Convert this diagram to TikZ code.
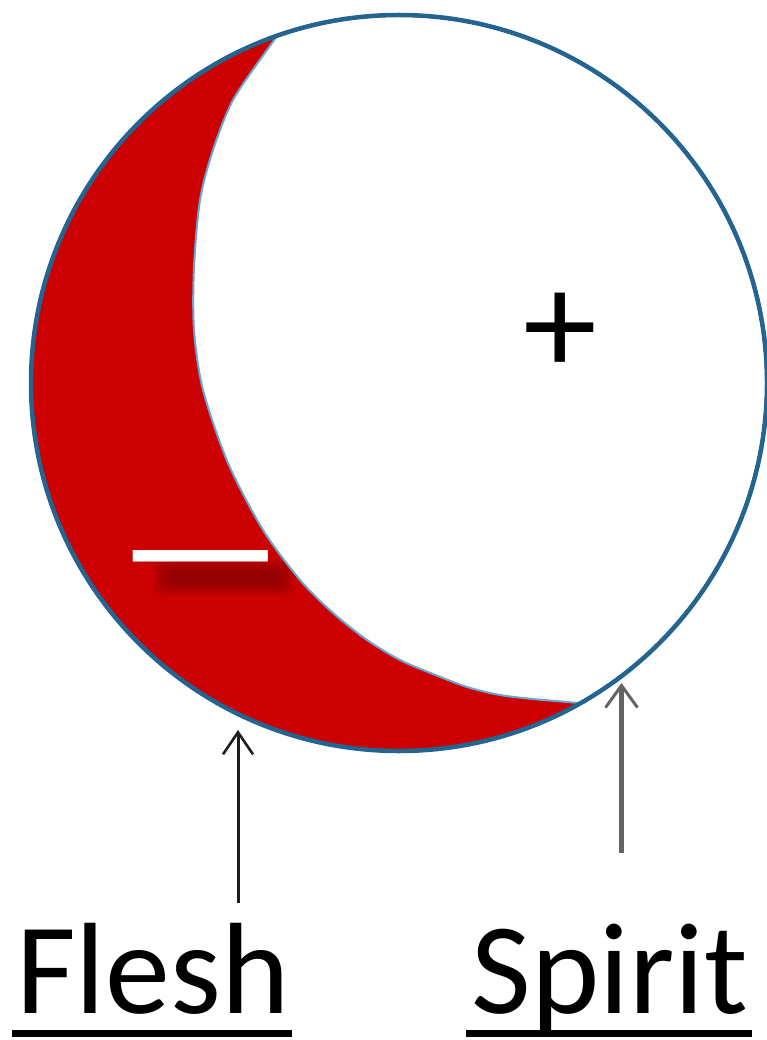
\documentclass[tikz,border=0pt]{standalone}
\usepackage{fontspec}
\setmainfont{Carlito}
\usetikzlibrary{arrows.meta}
\definecolor{rimblue}{RGB}{35,100,145}
\definecolor{innerblue}{RGB}{105,165,210}
\definecolor{fleshred}{RGB}{204,0,0}
\definecolor{shadowred}{RGB}{110,0,0}
\definecolor{arrowdark}{RGB}{30,30,30}
\definecolor{arrowgray}{RGB}{100,100,100}
\begin{document}
\begin{tikzpicture}[x=1pt,y=-1pt,
  rim/.style={draw=rimblue,line width=4.5pt},
  innerline/.style={draw=innerblue,line width=2pt},
  fleshpointer/.style={draw=arrowdark,line width=3pt,-{Straight Barb[length=22pt,width=30pt,line width=2.6pt]}},
  spiritpointer/.style={draw=arrowgray,line width=4.5pt,-{Straight Barb[length=22pt,width=32pt,line width=3pt]}},
  labeltext/.style={inner sep=0pt,anchor=base,font=\fontsize{130}{130}\selectfont},
  uline/.style={draw=black,line width=7pt},
  signtext/.style={inner sep=0pt}
]
\useasboundingbox (0,0) rectangle (767,1040);
\coordinate (c) at (399,383);
% red disc
\fill[fleshred] (c) circle[radius=368pt];
% blurred shadow of the minus
\foreach \r in {1,...,10}{
  \fill[shadowred,opacity=0.075,rounded corners=8pt]
    (172-2*\r,573-1.5*\r) rectangle (276+2*\r,581+1.5*\r);
}
% white part
\begin{scope}
  \clip (c) circle[radius=366pt];
  \fill[white] plot[smooth] coordinates {(292,16) (267,50) (233,100) (213,150) (200,200) (194,267) (194,330) (203,390) (228,463) (263,530) (300,580) (333,613) (367,640) (400,660) (433,674) (467,687) (500,695) (533,699) (567,702) (610,706)} -- (800,760) -- (800,0) -- (300,0) -- cycle;
  \draw[innerline] plot[smooth] coordinates {(292,16) (267,50) (233,100) (213,150) (200,200) (194,267) (194,330) (203,390) (228,463) (263,530) (300,580) (333,613) (367,640) (400,660) (433,674) (467,687) (500,695) (533,699) (567,702) (610,706)};
\end{scope}
% rim
\draw[rim] (c) circle[radius=368pt];
% signs
\node[signtext,text=white,font=\fontsize{184}{184}\selectfont] (minus) at (200.5,579) {—};
\node[signtext,text=black,font=\fontsize{148}{148}\selectfont] (plus) at (560,334) {+};
% labels
\node[labeltext] (flesh) at (153,1013) {Flesh};
\node[labeltext] (spirit) at (610,1013) {Spirit};
\coordinate (fleshulA) at (12,1033.5);
\coordinate (fleshulB) at (292,1033.5);
\coordinate (spiritulA) at (466,1033.5);
\coordinate (spiritulB) at (752,1033.5);
\draw[uline] (fleshulA) -- (fleshulB);
\draw[uline] (spiritulA) -- (spiritulB);
% arrows
\coordinate (fleshfoot) at (238,903);
\coordinate (fleshtip) at (238,730);
\coordinate (spiritfoot) at (621.5,853);
\coordinate (spirittip) at (621.5,683);
\draw[fleshpointer] (fleshfoot) -- (fleshtip);
\draw[spiritpointer] (spiritfoot) -- (spirittip);
\end{tikzpicture}
\end{document}
